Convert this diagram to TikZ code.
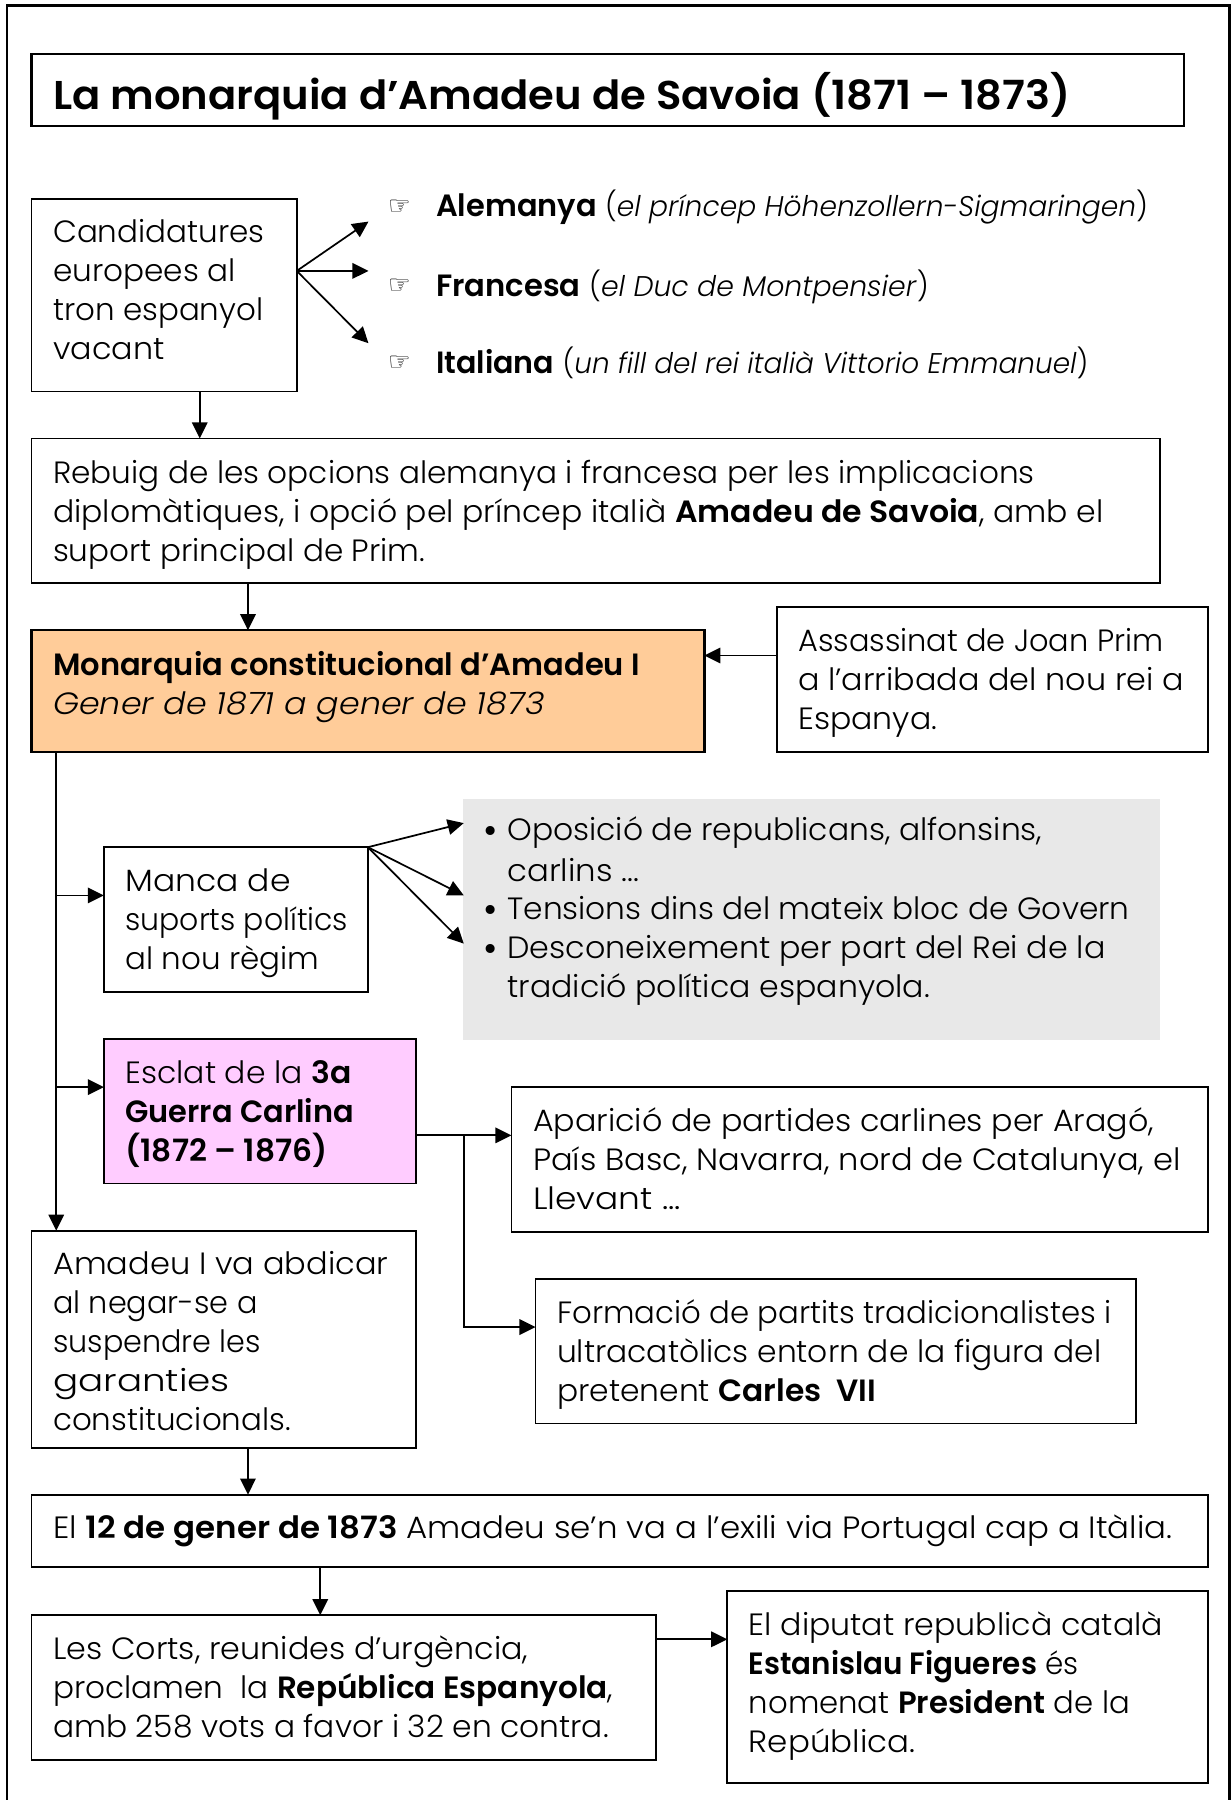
\documentclass[tikz,border=0pt]{standalone}
\usepackage{fontspec}
\usepackage{graphicx}
\usetikzlibrary{arrows.meta,calc}
\setmainfont{Poppins}[UprightFont={* Light},BoldFont={* SemiBold},ItalicFont={* Light Italic},BoldItalicFont={* SemiBold Italic}]
\newfontfamily\handfont{DejaVu Sans}
\newfontfamily\handbold{DejaVu Sans Bold}
\newfontfamily\titlefont{Poppins}[UprightFont={* SemiBold}]
\newcommand{\bodyfont}{\fontsize{26.8}{34}\selectfont}
\newcommand{\smallit}{\fontsize{24.8}{34}\selectfont}
\newcommand{\fl}[2]{\resizebox{#1pt}{\height}{#2}}
\tikzset{
  every node/.style={inner sep=0pt,outer sep=0pt},
  boxed/.style={draw=black,line width=1.6pt,rectangle,xshift=0.5pt},
  arr/.style={line width=1.5pt,draw=black,-{Triangle[length=14pt,width=13.5pt]}},
  free/.style={anchor=base west,font=\bodyfont},
  hand/.style={anchor=base west,font=\handbold\fontsize{22}{24}\selectfont},
  bull/.style={anchor=base west,font=\handfont\fontsize{27}{30}\selectfont},
}
\newcommand{\boxn}[8][]{%
  \pgfmathsetlengthmacro{\bw}{(#5-#3-2*18.8)*1pt}%
  \pgfmathsetlengthmacro{\bh}{(#6-#4)*1pt}%
  \node[boxed,#1,anchor=north west,inner xsep=18.8pt] (#2) at (#3,#4) {\parbox[c][\bh][t]{\bw}{\raggedright\bodyfont\rule{0pt}{#7pt}#8}};%
}
\begin{document}
\begin{tikzpicture}[x=1pt,y=-1pt]
\useasboundingbox (0,0) rectangle (1072,1568);
\draw[line width=2.4pt] (6,1568) -- (6,5) -- (1071,5) -- (1071,1568);

\node[boxed,line width=2pt,anchor=north west,inner xsep=18.8pt] (title) at (27,47) {\parbox[c][63pt][t]{966pt}{\titlefont\fontsize{35}{40}\selectfont\rule{0pt}{48.5pt}\fl{886}{La monarquia d’Amadeu de Savoia (1871 – 1873)}}};

\boxn{cand}{27}{173}{258}{341}{38.5}{\fl{184}{Candidatures}\\\fl{159}{europees al}\\\fl{183}{tron espanyol}\\\fl{97}{vacant}}

\node[hand] (hand1) at (338,187) {☞};
\node[hand] (hand2) at (338,256) {☞};
\node[hand] (hand3) at (338,323) {☞};
\node[free] (ale) at (380,189) {\fl{620}{\textbf{Alemanya} {\smallit(\textit{el príncep Höhenzollern-Sigmaringen})}}};
\node[free] (fra) at (380,258) {\fl{429}{\textbf{Francesa} {\smallit(\textit{el Duc de Montpensier})}}};
\node[free] (ita) at (380,325) {\fl{568}{\textbf{Italiana} {\smallit(\textit{un fill del rei italià Vittorio Emmanuel})}}};

\boxn{reb}{27}{382}{1010}{508}{39}{\fl{855}{Rebuig de les opcions alemanya i francesa per les implicacions}\\\fl{915}{diplomàtiques, i opció pel príncep italià \textbf{Amadeu de Savoia}, amb el}\\\fl{324}{suport principal de Prim.}}
\boxn[fill={rgb,255:red,255;green,204;blue,153},line width=2.2pt]{mon}{27}{549}{613}{655}{39}{\fl{511}{\textbf{Monarquia constitucional d’Amadeu I}}\\\fl{428}{\textit{Gener de 1871 a gener de 1873}}}
\boxn{ass}{676}{529}{1052}{655}{38.5}{\fl{318}{Assassinat de Joan Prim}\\\fl{336}{a l’arribada del nou rei a}\\\fl{121}{Espanya.}}
\boxn{man}{90}{738}{320}{864}{38.5}{\fl{144}{Manca de}\\\fl{194}{suports polítics}\\\fl{169}{al nou règim}}

\node[fill={rgb,255:red,232;green,232;blue,232},anchor=north west,minimum width=607pt,minimum height=210pt,xshift=0.5pt] (gray) at (403,696) {};
\node[bull] (b1) at (419,734) {•};
\node[free] (t1) at (442,732) {\fl{466}{Oposició de republicans, alfonsins,}};
\node[free] (t1b) at (442,768) {\fl{115}{carlins ...}};
\node[bull] (b2) at (419,803) {•};
\node[free] (t2) at (442,801) {\fl{542}{Tensions dins del mateix bloc de Govern}};
\node[bull] (b3) at (419,837) {•};
\node[free] (t3) at (442,835) {\fl{521}{Desconeixement per part del Rei de la}};
\node[free] (t3b) at (442,869) {\fl{368}{tradició política espanyola.}};

\boxn[fill={rgb,255:red,255;green,204;blue,255}]{esc}{90}{905}{362}{1031}{38.5}{\fl{197}{Esclat de la \textbf{3a}}\\\fl{199}{\textbf{Guerra Carlina}}\\\fl{176}{\textbf{(1872 – 1876)}}}
\boxn{apa}{445}{947}{1052}{1073}{38.5}{\fl{541}{Aparició de partides carlines per Aragó,}\\\fl{564}{País Basc, Navarra, nord de Catalunya, el}\\\fl{129}{Llevant ...}}
\boxn{for}{466}{1114}{989}{1240}{38.5}{\fl{483}{Formació de partits tradicionalistes i}\\\fl{474}{ultracatòlics entorn de la figura del}\\\fl{278}{pretenent \textbf{Carles\ \ VII}}}
\boxn{abd}{27}{1072}{362}{1261}{38.5}{\fl{292}{Amadeu I va abdicar}\\\fl{178}{al negar-se a}\\\fl{181}{suspendre les}\\\fl{154}{garanties}\\\fl{207}{constitucionals.}}
\boxn{gen}{27}{1302}{1052}{1365}{38.5}{\fl{975}{El \textbf{12 de gener de 1873} Amadeu se’n va a l’exili via Portugal cap a Itàlia.}}
\boxn{cor}{27}{1407}{571}{1533}{38.5}{\fl{414}{Les Corts, reunides d’urgència,}\\\fl{488}{proclamen\ \ la \textbf{República Espanyola},}\\\fl{484}{amb 258 vots a favor i 32 en contra.}}
\boxn{dip}{633}{1386}{1052}{1553}{38.5}{\fl{361}{El diputat republicà català}\\\fl{287}{\textbf{Estanislau Figueres} és}\\\fl{332}{nomenat \textbf{President} de la}\\\fl{145}{República.}}

% free ends
\coordinate (p1) at (321,193);
\coordinate (p2) at (321,236);
\coordinate (p3) at (321,299);
\coordinate (cs) at (258.5,236);
\coordinate (ms) at (320.5,738);
\coordinate (m1) at (404,717);
\coordinate (m2) at (404,780);
\coordinate (m3) at (404,822);
\coordinate (tx) at (49,655);
\coordinate (jx) at (404,989);

\draw[arr] (cs) -- (p1);
\draw[arr] (cs) -- (p2);
\draw[arr] (cs) -- (p3);
\draw[arr] (cand.south -| 174,0) -- (reb.north -| 174,0);
\draw[arr] (reb.south -| 216,0) -- (mon.north -| 216,0);
\draw[arr] (ass.west |- 0,571) -- (mon.east |- 0,571);
\draw[arr] (mon.south -| tx) -- (abd.north -| tx);
\draw[arr] (tx |- 0,780) -- (man.west |- 0,780);
\draw[arr] (tx |- 0,947) -- (esc.west |- 0,947);
\draw[arr] (ms) -- (m1);
\draw[arr] (ms) -- (m2);
\draw[arr] (ms) -- (m3);
\draw[arr] (esc.east |- jx) -- (apa.west |- jx);
\draw[arr] (jx) |- (for.west |- 0,1156);
\draw[arr] (abd.south -| 216,0) -- (gen.north -| 216,0);
\draw[arr] (gen.south -| 279,0) -- (cor.north -| 279,0);
\draw[arr] (cor.east |- 0,1428) -- (dip.west |- 0,1428);
\end{tikzpicture}
\end{document}
